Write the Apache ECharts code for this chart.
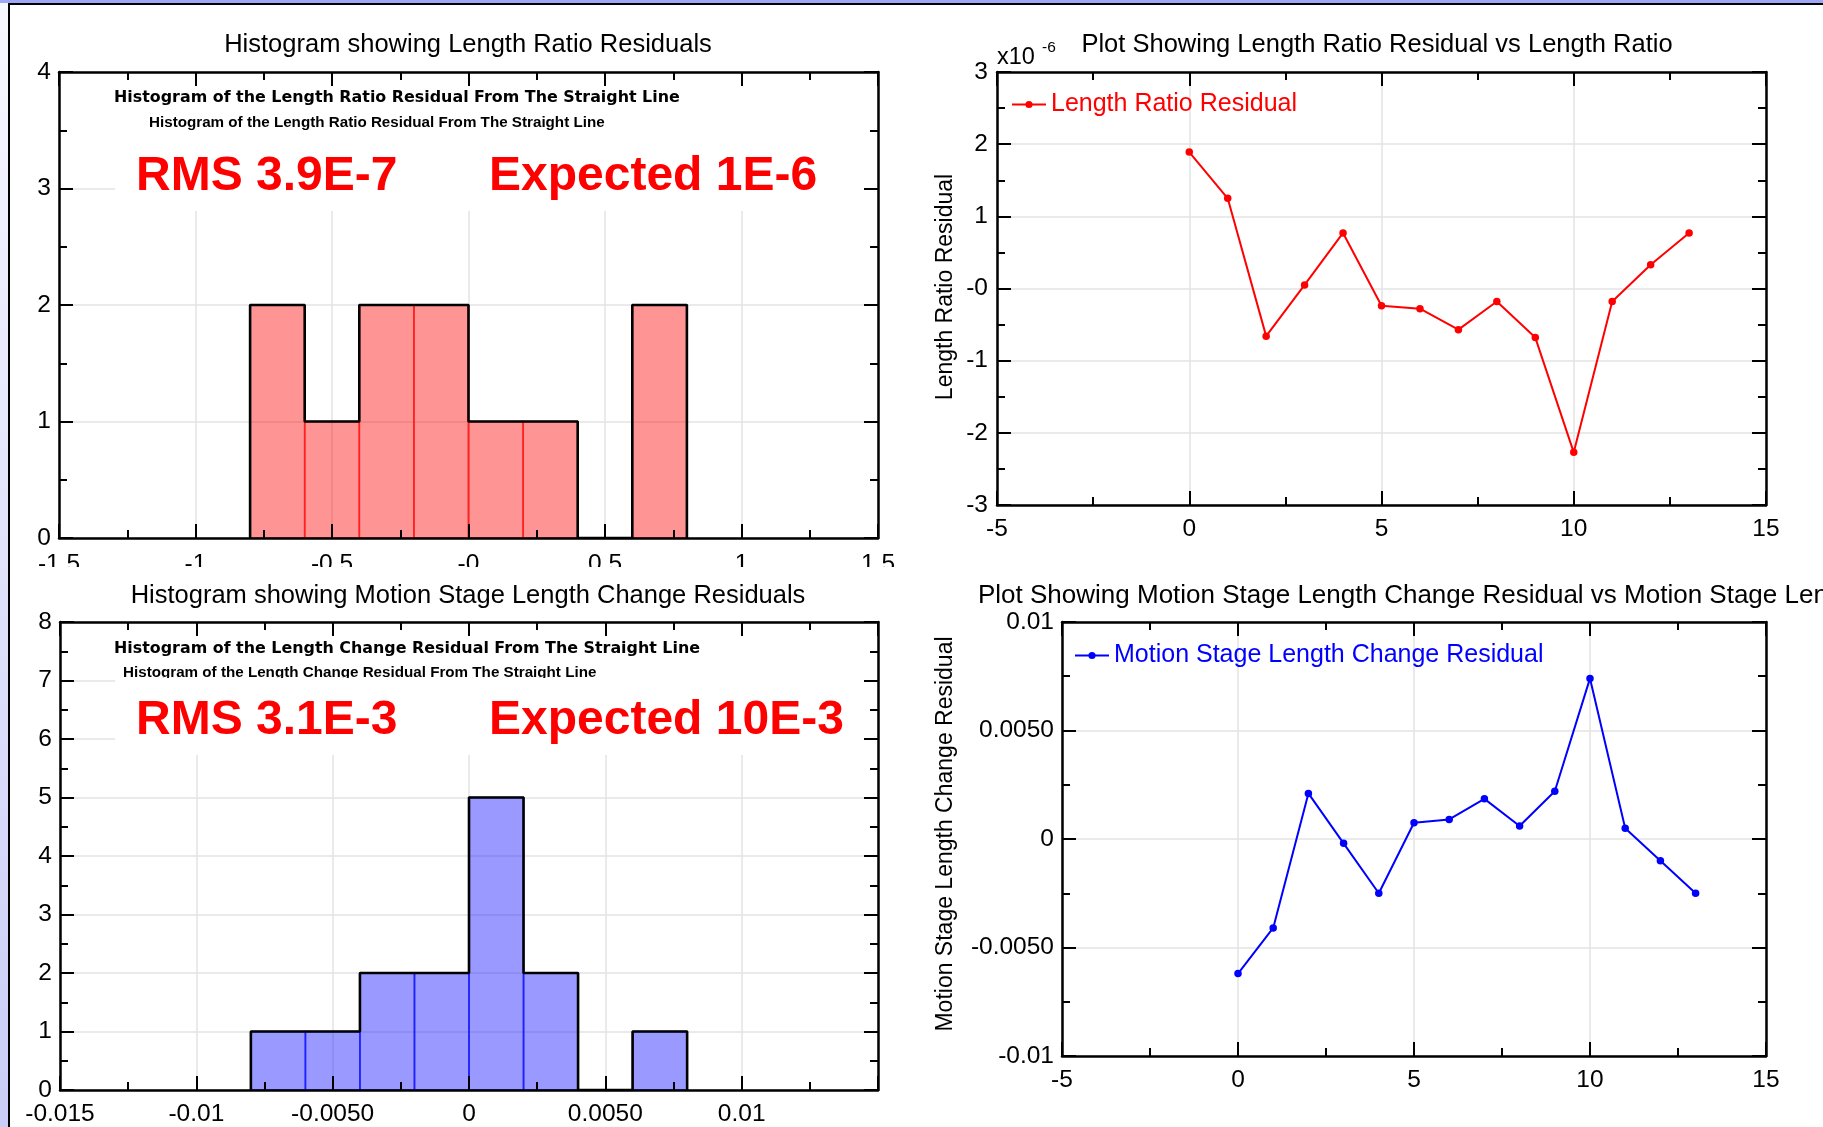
<!DOCTYPE html>
<html>
<head>
<meta charset="utf-8">
<script src="https://cdn.jsdelivr.net/npm/echarts/dist/echarts.min.js"></script>
<style>
html,body{margin:0;padding:0;width:1823px;height:1127px;overflow:hidden;}
body{position:relative;background:linear-gradient(180deg,#f7f8ff 0%,#c9cdf7 100%);}
#topband{position:absolute;left:0;top:0;width:1823px;height:3px;background:#9ea6f5;}
#frame{position:absolute;left:8px;top:3px;width:1815px;height:1124px;background:#fff;border-left:2px solid #000;border-top:2px solid #000;box-sizing:border-box;}
.panel{position:absolute;}
</style>
</head>
<body>
<div id="topband"></div>
<div id="frame"></div>
<div id="tl" class="panel" style="left:10px;top:5px;width:890px;height:562px;"></div>
<div id="tr" class="panel" style="left:900px;top:5px;width:923px;height:562px;"></div>
<div id="bl" class="panel" style="left:10px;top:567px;width:890px;height:560px;"></div>
<div id="br" class="panel" style="left:900px;top:567px;width:923px;height:560px;"></div>
<script>
// ---------------- DATA ----------------
const hist1Edges = [-0.8, -0.6, -0.4, -0.2, 0, 0.2, 0.4, 0.6, 0.8];
const hist1Counts = [2, 1, 2, 2, 1, 1, 0, 2];
const hist1XTicks = ['-1.5', '-1', '-0.5', '-0', '0.5', '1', '1.5'];
const hist1YTicks = ['0', '1', '2', '3', '4'];

const hist2Edges = [-0.008, -0.006, -0.004, -0.002, 0, 0.002, 0.004, 0.006, 0.008];
const hist2Counts = [1, 1, 2, 2, 5, 2, 0, 1];
const hist2XTicks = ['-0.015', '-0.01', '-0.0050', '0', '0.0050', '0.01', ''];
const hist2YTicks = ['0', '1', '2', '3', '4', '5', '6', '7', '8'];

const sampleIndex = [0, 1, 2, 3, 4, 5, 6, 7, 8, 9, 10, 11, 12, 13];
// values in units of 1e-6
const lengthRatioResidual = [1.89, 1.25, -0.66, 0.05, 0.77, -0.24, -0.28, -0.57, -0.18, -0.68, -2.27, -0.18, 0.33, 0.77];
const motionStageResidual = [-0.0062, -0.0041, 0.0021, -0.0002, -0.0025, 0.00075, 0.0009, 0.00185, 0.0006, 0.0022, 0.0074, 0.0005, -0.0010, -0.0025];

const scatterXTicks = ['-5', '0', '5', '10', '15'];
const ratioYTicks = ['-3', '-2', '-1', '-0', '1', '2', '3'];
const motionYTicks = ['-0.01', '-0.0050', '0', '0.0050', '0.01'];

const titles = {
  tl: 'Histogram showing Length Ratio Residuals',
  tr: 'Plot Showing Length Ratio Residual vs Length Ratio',
  bl: 'Histogram showing Motion Stage Length Change Residuals',
  br: 'Plot Showing Motion Stage Length Change Residual vs Motion Stage Length'
};

// ---------------- HELPERS ----------------
const FONT = "'Liberation Sans', Arial, Helvetica, sans-serif";
const TITLE_SIZE = 25.5;
const TICK_SIZE = 24.5;

function fmt(labels, min, interval) {
  return function (v) {
    const i = Math.round((v - min) / interval);
    return labels[i] !== undefined ? labels[i] : '';
  };
}

function axisSet(isX, min, max, interval, labels, margin) {
  const common = {
    type: 'value', min: min, max: max, interval: interval,
    axisLine: { show: true, onZero: false, lineStyle: { color: '#000', width: 2.5 } },
    axisTick: { show: true, inside: true, length: 14, lineStyle: { color: '#000', width: 2 } },
    minorTick: { show: true, splitNumber: 2, length: 8, lineStyle: { color: '#000', width: 2 } },
    splitLine: { show: false },
    z: 5
  };
  const main = Object.assign({}, common, {
    position: isX ? 'bottom' : 'left',
    axisLabel: { show: true, margin: margin, color: '#000', fontSize: TICK_SIZE, fontFamily: FONT, formatter: fmt(labels, min, interval), hideOverlap: false }
  });
  const opp = Object.assign({}, common, {
    position: isX ? 'top' : 'right',
    axisLabel: { show: false }
  });
  const gridAx = {
    type: 'value', min: min, max: max, interval: interval,
    position: isX ? 'bottom' : 'left',
    axisLine: { show: false }, axisTick: { show: false }, axisLabel: { show: false },
    splitLine: { show: true, lineStyle: { color: '#e3e3e3', width: 1.5 } },
    z: 0
  };
  return [main, opp, gridAx];
}

function histSeries(edges, counts, fill, stroke) {
  const data = counts.map((c, i) => [edges[i], edges[i + 1], c]);
  const outline = [];
  let prev = 0;
  for (let i = 0; i < counts.length; i++) {
    outline.push([edges[i], prev]);
    outline.push([edges[i], counts[i]]);
    prev = counts[i];
  }
  outline.push([edges[edges.length - 1], prev]);
  outline.push([edges[edges.length - 1], 0]);
  return [
    {
      type: 'custom', xAxisIndex: 0, yAxisIndex: 0, z: 3,
      data: data,
      encode: { x: [0, 1], y: 2 },
      renderItem: function (params, api) {
        const x0 = api.value(0), x1 = api.value(1), c = api.value(2);
        if (!c) return null;
        const p0 = api.coord([x0, 0]), p1 = api.coord([x1, c]);
        return {
          type: 'rect',
          shape: { x: p0[0], y: p1[1], width: p1[0] - p0[0], height: p0[1] - p1[1] },
          style: { fill: fill, stroke: stroke, lineWidth: 1.6 }
        };
      }
    },
    {
      type: 'line', xAxisIndex: 0, yAxisIndex: 0, z: 4,
      data: outline, symbol: 'none', silent: true,
      lineStyle: { color: '#000', width: 2.6 }
    }
  ];
}

function txt(x, y, text, size, color, weight, align, family, extra) {
  return Object.assign({
    type: 'text', x: x, y: y, z: 10,
    style: {
      text: text, fill: color, font: (weight || 'normal') + ' ' + size + 'px ' + (family || FONT),
      textAlign: align || 'left', textVerticalAlign: 'middle'
    }
  }, extra || {});
}

function gridOf(l, t, w, h) {
  return { left: l, top: t, width: w, height: h, containLabel: false, outerBoundsMode: 'none' };
}

// ---------------- TOP LEFT HISTOGRAM ----------------
(function () {
  const c = echarts.init(document.getElementById('tl'), null, { renderer: 'canvas' });
  c.setOption({
    animation: false,
    grid: gridOf(49, 67, 819, 466),
    xAxis: axisSet(true, -1.5, 1.5, 0.5, hist1XTicks, 14),
    yAxis: axisSet(false, 0, 4, 1, hist1YTicks, 8),
    series: histSeries(hist1Edges, hist1Counts, 'rgba(255,0,0,0.42)', 'rgba(255,30,30,0.85)'),
    graphic: [
      { type: 'rect', z: 1, shape: { x: 105, y: 67, width: 761, height: 139 }, style: { fill: '#fff' } },
      txt(458, 40, titles.tl, TITLE_SIZE, '#000', 'normal', 'center'),
      txt(104, 93, 'Histogram of the Length Ratio Residual From The Straight Line', 15.9, '#000', 'bold', 'left', "'DejaVu Sans', sans-serif"),
      txt(139, 117.5, 'Histogram of the Length Ratio Residual From The Straight Line', 15.2, '#000', 'bold'),
      txt(126, 171.5, 'RMS 3.9E-7', 48, '#ff0000', 'bold'),
      txt(479, 171.5, 'Expected 1E-6', 48, '#ff0000', 'bold')
    ]
  });
})();

// ---------------- TOP RIGHT SCATTER ----------------
(function () {
  const c = echarts.init(document.getElementById('tr'), null, { renderer: 'canvas' });
  c.setOption({
    animation: false,
    grid: gridOf(97, 67, 769, 433),
    xAxis: axisSet(true, -5, 15, 5, scatterXTicks, 12),
    yAxis: axisSet(false, -3, 3, 1, ratioYTicks, 9),
    legend: {
      data: ['Length Ratio Residual'], left: 106, top: 82, itemWidth: 34, itemHeight: 9,
      textStyle: { color: '#ff0000', fontSize: 25, fontFamily: FONT }
    },
    series: [{
      name: 'Length Ratio Residual', type: 'line', xAxisIndex: 0, yAxisIndex: 0, z: 4,
      data: sampleIndex.map((x, i) => [x, lengthRatioResidual[i]]),
      symbol: 'circle', symbolSize: 7.5,
      itemStyle: { color: '#ff0000' }, lineStyle: { color: '#ff0000', width: 2 }
    }],
    graphic: [
      txt(477, 40, titles.tr, TITLE_SIZE, '#000', 'normal', 'center'),
      txt(97, 53, 'x10', 23.5, '#000'),
      txt(142, 43, '-6', 15.5, '#000'),
      { type: 'text', x: 46, y: 282, rotation: Math.PI / 2, z: 10,
        style: { text: 'Length Ratio Residual', fill: '#000', font: '23px ' + FONT, textAlign: 'center', textVerticalAlign: 'middle' } }
    ]
  });
})();

// ---------------- BOTTOM LEFT HISTOGRAM ----------------
(function () {
  const c = echarts.init(document.getElementById('bl'), null, { renderer: 'canvas' });
  c.setOption({
    animation: false,
    grid: gridOf(50, 55, 818, 468),
    xAxis: axisSet(true, -0.015, 0.015, 0.005, hist2XTicks, 12),
    yAxis: axisSet(false, 0, 8, 1, hist2YTicks, 8),
    series: histSeries(hist2Edges, hist2Counts, 'rgba(0,0,255,0.40)', 'rgba(30,30,255,0.85)'),
    graphic: [
      { type: 'rect', z: 1, shape: { x: 105, y: 55, width: 761, height: 133 }, style: { fill: '#fff' } },
      txt(458, 29, titles.bl, TITLE_SIZE, '#000', 'normal', 'center'),
      txt(104, 81.5, 'Histogram of the Length Change Residual From The Straight Line', 15.9, '#000', 'bold', 'left', "'DejaVu Sans', sans-serif"),
      txt(113, 106, 'Histogram of the Length Change Residual From The Straight Line', 15.2, '#000', 'bold'),
      { type: 'rect', z: 11, shape: { x: 105, y: 111, width: 600, height: 12 }, style: { fill: '#fff' } },
      txt(126, 153.5, 'RMS 3.1E-3', 48, '#ff0000', 'bold'),
      txt(479, 153.5, 'Expected 10E-3', 48, '#ff0000', 'bold')
    ]
  });
})();

// ---------------- BOTTOM RIGHT SCATTER ----------------
(function () {
  const c = echarts.init(document.getElementById('br'), null, { renderer: 'canvas' });
  c.setOption({
    animation: false,
    grid: gridOf(162, 55, 704, 434),
    xAxis: axisSet(true, -5, 15, 5, scatterXTicks, 12),
    yAxis: axisSet(false, -0.01, 0.01, 0.005, motionYTicks, 8),
    legend: {
      data: ['Motion Stage Length Change Residual'], left: 169, top: 71, itemWidth: 34, itemHeight: 9,
      textStyle: { color: '#0000ff', fontSize: 25, fontFamily: FONT }
    },
    series: [{
      name: 'Motion Stage Length Change Residual', type: 'line', xAxisIndex: 0, yAxisIndex: 0, z: 4,
      data: sampleIndex.map((x, i) => [x, motionStageResidual[i]]),
      symbol: 'circle', symbolSize: 7.5,
      itemStyle: { color: '#0000ff' }, lineStyle: { color: '#0000ff', width: 2 }
    }],
    graphic: [
      txt(78, 29, titles.br, 26, '#000'),
      { type: 'text', x: 46, y: 267, rotation: Math.PI / 2, z: 10,
        style: { text: 'Motion Stage Length Change Residual', fill: '#000', font: '23px ' + FONT, textAlign: 'center', textVerticalAlign: 'middle' } }
    ]
  });
})();
</script>
</body>
</html>
